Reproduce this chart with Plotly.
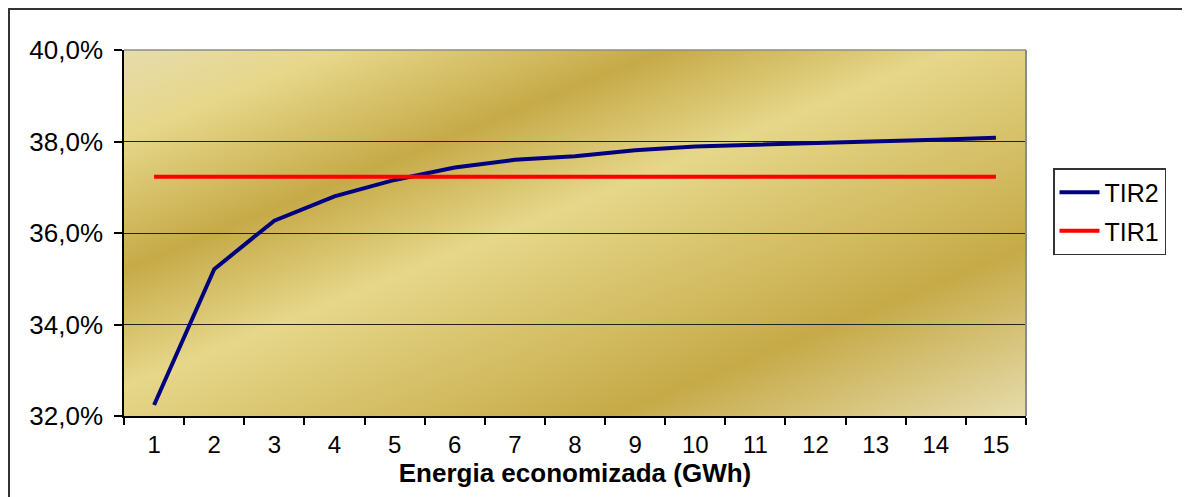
import base64
import plotly.graph_objects as go

# ---- data ----
categories = [str(i) for i in range(1, 16)]
tir2 = [32.24, 35.21, 36.27, 36.80, 37.16, 37.43, 37.60, 37.68, 37.81,
        37.89, 37.93, 37.96, 38.00, 38.04, 38.08]
tir1 = [37.23] * 15
y_ticks = [32, 34, 36, 38, 40]
y_tick_text = [f"{v:.1f}%".replace(".", ",") for v in y_ticks]

OFF = 8  # page body margin
W, H = 1190 - OFF, 497 - OFF
L, T = 124 - OFF, 50 - OFF
R = W + OFF - 1026
B = H + OFF - 416
pw, ph = W - L - R, H - T - B

# gold gradient background (Excel-like preset)
svg = f'''<svg xmlns="http://www.w3.org/2000/svg" width="{pw}" height="{ph}" viewBox="0 0 {pw} {ph}" preserveAspectRatio="none">
<defs><linearGradient id="g" x1="0" y1="0" x2="1" y2="1">
<stop offset="0" stop-color="#E6DCAC"/>
<stop offset="0.12" stop-color="#E6D78A"/>
<stop offset="0.30" stop-color="#C6AA48"/>
<stop offset="0.46" stop-color="#E6D78A"/>
<stop offset="0.77" stop-color="#C6AA48"/>
<stop offset="1" stop-color="#E6DCAC"/>
</linearGradient></defs>
<rect x="0" y="0" width="{pw}" height="{ph}" fill="url(#g)"/>
</svg>'''
src = "data:image/svg+xml;base64," + base64.b64encode(svg.encode()).decode()

fig = go.Figure()
fig.add_trace(go.Scatter(x=categories, y=tir2, mode="lines", name="TIR2",
                         legendgroup="a",
                         line=dict(color="#000080", width=4)))
fig.add_trace(go.Scatter(x=categories, y=tir1, mode="lines", name="TIR1",
                         legendgroup="b",
                         line=dict(color="#FF0000", width=4)))

font = "Liberation Sans, Arial, sans-serif"

def px_x(px):
    return (px - OFF - L) / pw

def px_y(py):
    return (H - B - (py - OFF)) / ph

fig.update_layout(
    width=W, height=H,
    margin=dict(l=L, r=R, t=T, b=B, pad=0, autoexpand=False),
    paper_bgcolor="white",
    plot_bgcolor="rgba(0,0,0,0)",
    font=dict(family=font, color="black", size=24),
    showlegend=True,
    legend=dict(x=px_x(1053), y=px_y(168), xanchor="left", yanchor="top",
                bordercolor="#333333", borderwidth=1.5, bgcolor="white",
                font=dict(size=25, family=font), tracegroupgap=3,
                itemwidth=40, traceorder="grouped"),
    images=[dict(source=src, xref="paper", yref="paper", x=0, y=1,
                 sizex=1, sizey=1, xanchor="left", yanchor="top",
                 sizing="stretch", layer="below")],
    xaxis=dict(type="category", tickson="boundaries", ticks="outside",
               range=[-0.5, len(categories) - 0.5],
               ticklen=7, tickcolor="black", tickwidth=1.5,
               showline=True, linecolor="black", linewidth=1.5,
               showgrid=False, tickfont=dict(size=24),
               ticklabelstandoff=6,
               title=dict(text="<b>Energia economizada (GWh)</b>",
                          font=dict(size=26), standoff=0)),
    yaxis=dict(range=[32, 40], tickvals=y_ticks, ticktext=y_tick_text,
               ticks="outside", ticklen=8,
               tickcolor="black", tickwidth=1.5,
               showline=True, linecolor="black", linewidth=1.5,
               showgrid=True, gridcolor="#222222", gridwidth=1,
               zeroline=False, tickfont=dict(size=26),
               ticklabelstandoff=6),
    shapes=[
        # top and right plot-area border (gray)
        dict(type="line", xref="paper", yref="paper", x0=0, x1=1, y0=1, y1=1,
             line=dict(color="#8C8C8C", width=1.5), layer="above"),
        dict(type="line", xref="paper", yref="paper", x0=1, x1=1, y0=0, y1=1,
             line=dict(color="#8C8C8C", width=2), layer="above"),
        # outer chart frame
        dict(type="rect", xref="paper", yref="paper",
             x0=px_x(9), x1=px_x(1210),
             y0=px_y(520), y1=px_y(9),
             line=dict(color="#333333", width=2), layer="above"),
    ],
)

fig.write_html("out.html")
